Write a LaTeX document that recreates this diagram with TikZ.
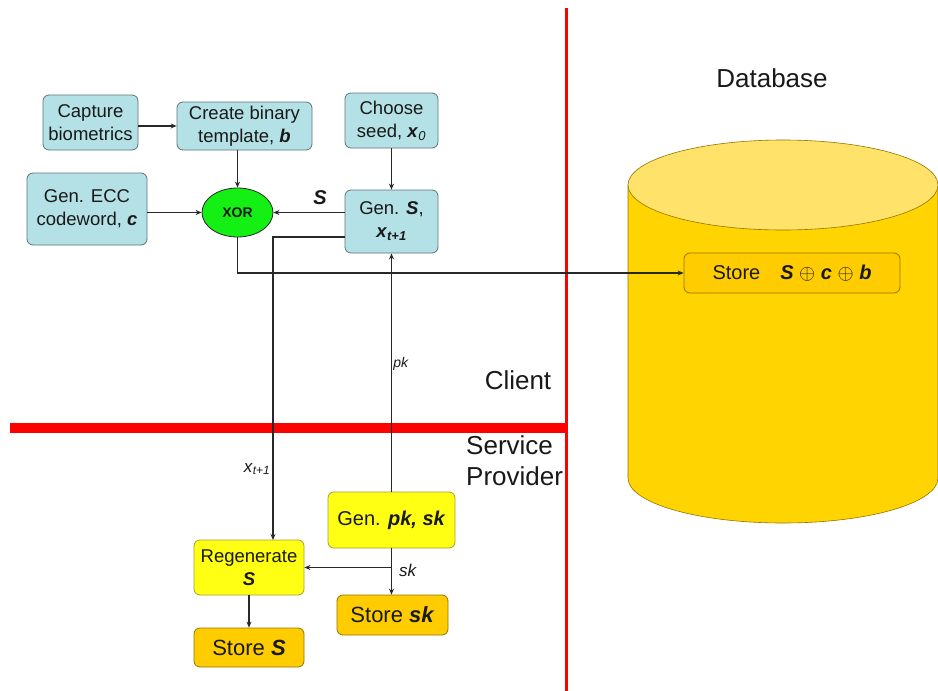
\documentclass[tikz,border=0pt]{standalone}
\usepackage{fontspec}
\setmainfont{Liberation Sans}
\usetikzlibrary{shapes.geometric,arrows.meta}
\definecolor{boxblue}{RGB}{180,225,230}
\definecolor{blueedge}{RGB}{95,115,120}
\definecolor{ylw}{RGB}{255,255,20}
\definecolor{ylwedge}{RGB}{165,160,50}
\definecolor{gold}{RGB}{255,204,0}
\definecolor{goldedge}{RGB}{150,115,0}
\definecolor{cylbody}{RGB}{255,212,0}
\definecolor{cyltop}{RGB}{255,226,105}
\definecolor{xorgreen}{RGB}{20,240,20}
\definecolor{linec}{RGB}{40,40,40}
\definecolor{txt}{RGB}{25,25,25}
\newcommand{\bi}[1]{\textbf{\textit{#1}}}
\tikzset{
  box/.style={draw, rounded corners=6pt, line width=0.8pt, align=center, inner sep=1pt,
    text=txt, font=\fontsize{18.5}{23}\selectfont},
  bluebox/.style={box, fill=boxblue, draw=blueedge},
  ylwbox/.style={box, fill=ylw, draw=ylwedge},
  storebox/.style={box, fill=gold, draw=goldedge, font=\fontsize{22}{26}\selectfont},
  arr/.style={draw=linec, line width=1.3pt, -{Stealth[length=6pt,width=5pt]}},
  lab/.style={text=txt, inner sep=0pt},
  region/.style={text=txt, inner sep=0pt, font=\fontsize{26}{31}\selectfont, align=left}
}
\begin{document}
\begin{tikzpicture}[x=1pt,y=-1pt]
\useasboundingbox (0,0) rectangle (938,691);
% separators
\draw[red, line width=3pt] (566,8) -- (566,691);
\draw[red, line width=10pt] (10,428) -- (564.5,428);
% database cylinder
\path[fill=cylbody, draw=goldedge, line width=0.6pt]
  (628,185) -- (628,478)
  .. controls (628,502.9) and (697.4,523) .. (783,523)
  .. controls (868.6,523) and (938,502.9) .. (938,478) -- (938,185) -- cycle;
\path[fill=cyltop, draw=goldedge, line width=0.6pt] (783,185) ellipse [x radius=155, y radius=45];
% region labels
\node[region] (db) at (772,78) {Database};
\node[region] (client) at (518,380) {Client};
\node[region, anchor=north west] (sp) at (466,435) {Service\\Provider};
% client boxes
\node[bluebox, minimum width=95pt, minimum height=55pt] (cap) at (90.5,122.5) {Capture\\biometrics};
\node[bluebox, minimum width=135pt, minimum height=48pt] (tmpl) at (244.5,126) {Create binary\\template, \bi{b}};
\node[bluebox, minimum width=93pt, minimum height=55pt] (seed) at (391.5,120.5) {Choose\\seed, \bi{x}\textsubscript{\textit{0}}};
\node[bluebox, minimum width=120pt, minimum height=72pt] (ecc) at (87,209) {Gen. ECC\\codeword, \bi{c}};
\node[ellipse, draw=linec, line width=0.8pt, fill=xorgreen, minimum width=71pt, minimum height=49pt, inner sep=0pt,
  font=\fontsize{14}{16}\selectfont\bfseries, text=txt] (xor) at (237.5,212.5) {XOR};
\node[bluebox, minimum width=93pt, minimum height=63pt] (gens) at (391.5,221.5) {Gen. \bi{S},\\\bi{x}\textsubscript{\bi{t+1}}};
% database store
\node[storebox, minimum width=216pt, minimum height=40pt, font=\fontsize{20}{24}\selectfont] (storedb) at (792,273)
  {Store\quad \bi{S} $\oplus$ \bi{c} $\oplus$ \bi{b}};
% service provider boxes
\node[ylwbox, minimum width=127pt, minimum height=56pt, font=\fontsize{20}{24}\selectfont] (genpk) at (391.5,520) {Gen. \bi{pk, sk}};
\node[ylwbox, minimum width=110pt, minimum height=55pt] (regen) at (249,567.5) {Regenerate\\\bi{S}};
\node[storebox, minimum width=111pt, minimum height=40pt] (storesk) at (392.5,615) {Store \bi{sk}};
\node[storebox, minimum width=110pt, minimum height=39pt] (stores) at (249,647.5) {Store \bi{S}};
% connectors
\draw[arr] (cap.east |- tmpl) -- (tmpl.west);
\draw[arr] (xor |- tmpl.south) -- (xor.north);
\draw[arr] (seed.south) -- (gens.north);
\draw[arr] (ecc.east |- xor) -- (xor.west);
\draw[arr] (gens.west |- xor) -- (xor.east);
\node[lab, font=\fontsize{20}{24}\selectfont] (slab) at (320,198) {\bi{S}};
\draw[arr] (xor.south) |- (storedb.west);
\coordinate (gx) at (345,237);
\coordinate (rx) at (273,540);
\draw[arr] (gx) -| (rx);
\node[lab, font=\fontsize{17}{20}\selectfont] (xlab) at (257,469) {\textit{x}\textsubscript{\textit{t+1}}};
\draw[arr] (genpk.north) -- (gens.south);
\node[lab, font=\fontsize{14}{16}\selectfont] (pklab) at (401,364) {\textit{pk}};
\draw[arr] (genpk.south) -- (genpk.south |- storesk.north);
\draw[arr] (genpk.south |- regen.east) -- (regen.east);
\node[lab, font=\fontsize{17}{20}\selectfont] (sklab) at (408,570) {\textit{sk}};
\draw[arr] (regen.south) -- (stores.north);
\end{tikzpicture}
\end{document}
